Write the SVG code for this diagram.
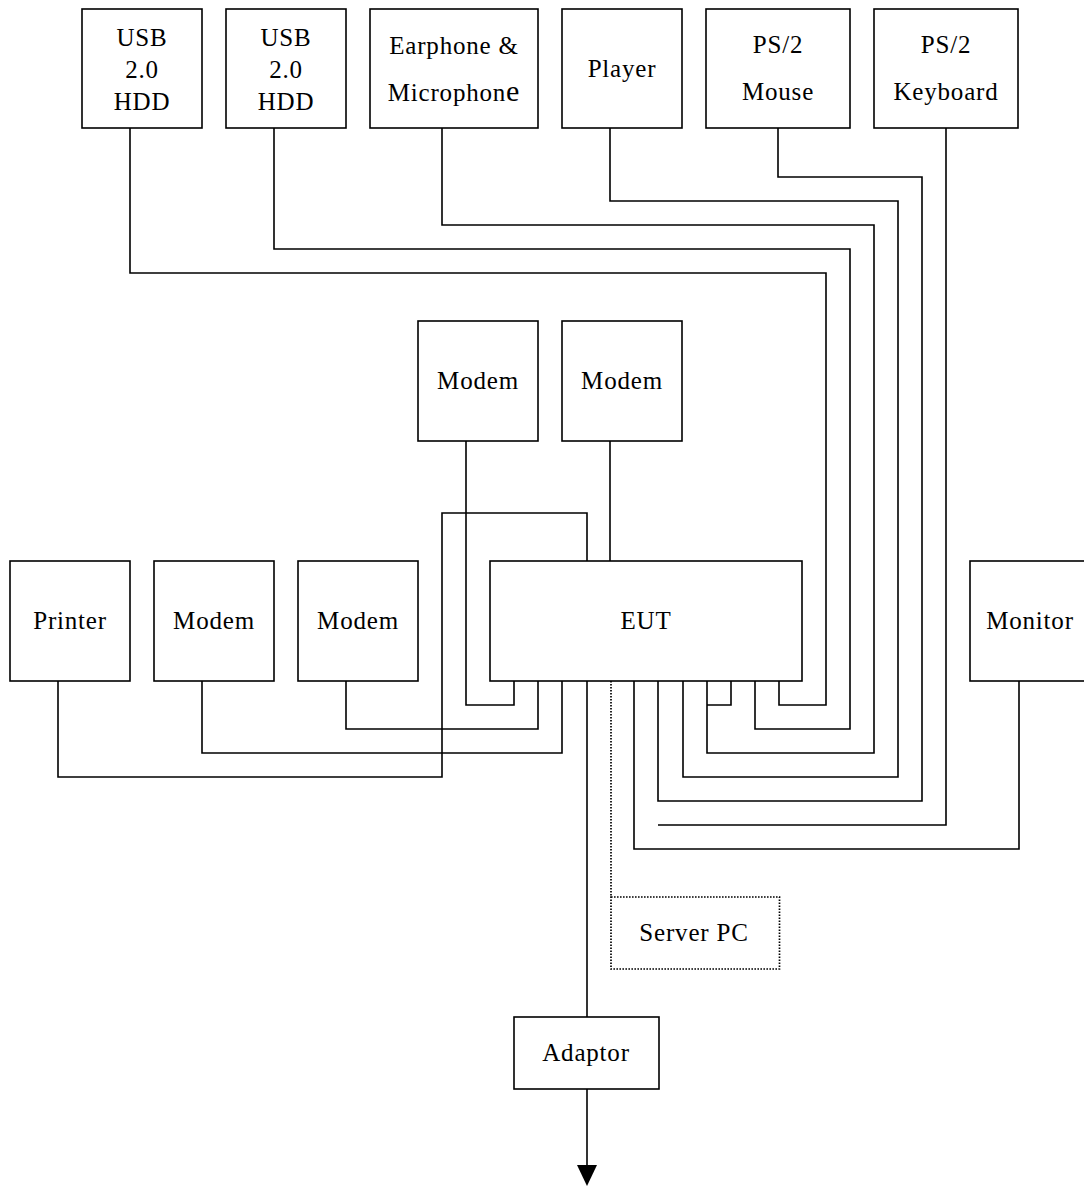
<svg xmlns="http://www.w3.org/2000/svg" width="1084" height="1188" viewBox="0 0 1084 1188">
<style>
.box{fill:#fff;stroke:#000;stroke-width:1.6}
.dbox{fill:#fff;stroke:#000;stroke-width:1.7;stroke-dasharray:1.6 1.4}
.t{font-family:"Liberation Serif","Times New Roman",serif;font-size:25px;letter-spacing:0.8px;text-anchor:middle;fill:#000}
.c{fill:none;stroke:#000;stroke-width:1.6}
.d{fill:none;stroke:#000;stroke-width:1.7;stroke-dasharray:1.6 1.4}
</style>
<rect width="1084" height="1188" fill="#fff"/>
<g id="connectors">
<path class="c" d="M58,681 V777 H442 V513 H587 V561"/>
<path class="c" d="M202,681 V753 H562 V681"/>
<path class="c" d="M346,681 V729 H538 V681"/>
<path class="c" d="M466,441 V705 H514 V681"/>
<path class="c" d="M610,441 V561"/>
<path class="c" d="M587,681 V1017"/>
<path class="c" d="M587,1089 V1166"/>
<polygon points="577,1165 597,1165 587,1186" fill="#000"/>
<path class="d" d="M611,681 V897"/>
<path class="c" d="M130,128 V273 H826 V705 H779 V681"/>
<path class="c" d="M274,128 V249 H850 V729 H755 V681"/>
<path class="c" d="M442,128 V225 H874 V753 H707 V681"/>
<path class="c" d="M731,681 V705 H707"/>
<path class="c" d="M610,128 V201 H898 V777 H683 V681"/>
<path class="c" d="M778,128 V177 H922 V801 H658 V681"/>
<path class="c" d="M946,128 V825 H658"/>
<path class="c" d="M1019,681 V849 H634 V681"/>
</g>
<g id="usb1"><rect class="box" x="82" y="9" width="120" height="119"/><text class="t" x="142" y="46">USB</text><text class="t" x="142" y="78">2.0</text><text class="t" x="142" y="110">HDD</text></g>
<g id="usb2"><rect class="box" x="226" y="9" width="120" height="119"/><text class="t" x="286" y="46">USB</text><text class="t" x="286" y="78">2.0</text><text class="t" x="286" y="110">HDD</text></g>
<g id="earphone"><rect class="box" x="370" y="9" width="168" height="119"/><text class="t" x="454" y="54">Earphone &amp;</text><text class="t" x="454" y="101">Microphon<tspan style="font-size:30px">e</tspan></text></g>
<g id="player"><rect class="box" x="562" y="9" width="120" height="119"/><text class="t" x="622" y="77">Player</text></g>
<g id="mouse"><rect class="box" x="706" y="9" width="144" height="119"/><text class="t" x="778" y="53">PS/2</text><text class="t" x="778" y="100">Mouse</text></g>
<g id="keyboard"><rect class="box" x="874" y="9" width="144" height="119"/><text class="t" x="946" y="53">PS/2</text><text class="t" x="946" y="100">Keyboard</text></g>
<g id="modem-top1"><rect class="box" x="418" y="321" width="120" height="120"/><text class="t" x="478" y="389">Modem</text></g>
<g id="modem-top2"><rect class="box" x="562" y="321" width="120" height="120"/><text class="t" x="622" y="389">Modem</text></g>
<g id="printer"><rect class="box" x="10" y="561" width="120" height="120"/><text class="t" x="70" y="629">Printer</text></g>
<g id="modem-l1"><rect class="box" x="154" y="561" width="120" height="120"/><text class="t" x="214" y="629">Modem</text></g>
<g id="modem-l2"><rect class="box" x="298" y="561" width="120" height="120"/><text class="t" x="358" y="629">Modem</text></g>
<g id="eut"><rect class="box" x="490" y="561" width="312" height="120"/><text class="t" x="646" y="629">EUT</text></g>
<g id="monitor"><rect class="box" x="970" y="561" width="120" height="120"/><text class="t" x="1030" y="629">Monitor</text></g>
<g id="server-pc"><rect class="dbox" x="611" y="897" width="168.5" height="72"/><text class="t" x="694" y="941">Server PC</text></g>
<g id="adaptor"><rect class="box" x="514" y="1017" width="145" height="72"/><text class="t" x="586" y="1061">Adaptor</text></g>
</svg>
